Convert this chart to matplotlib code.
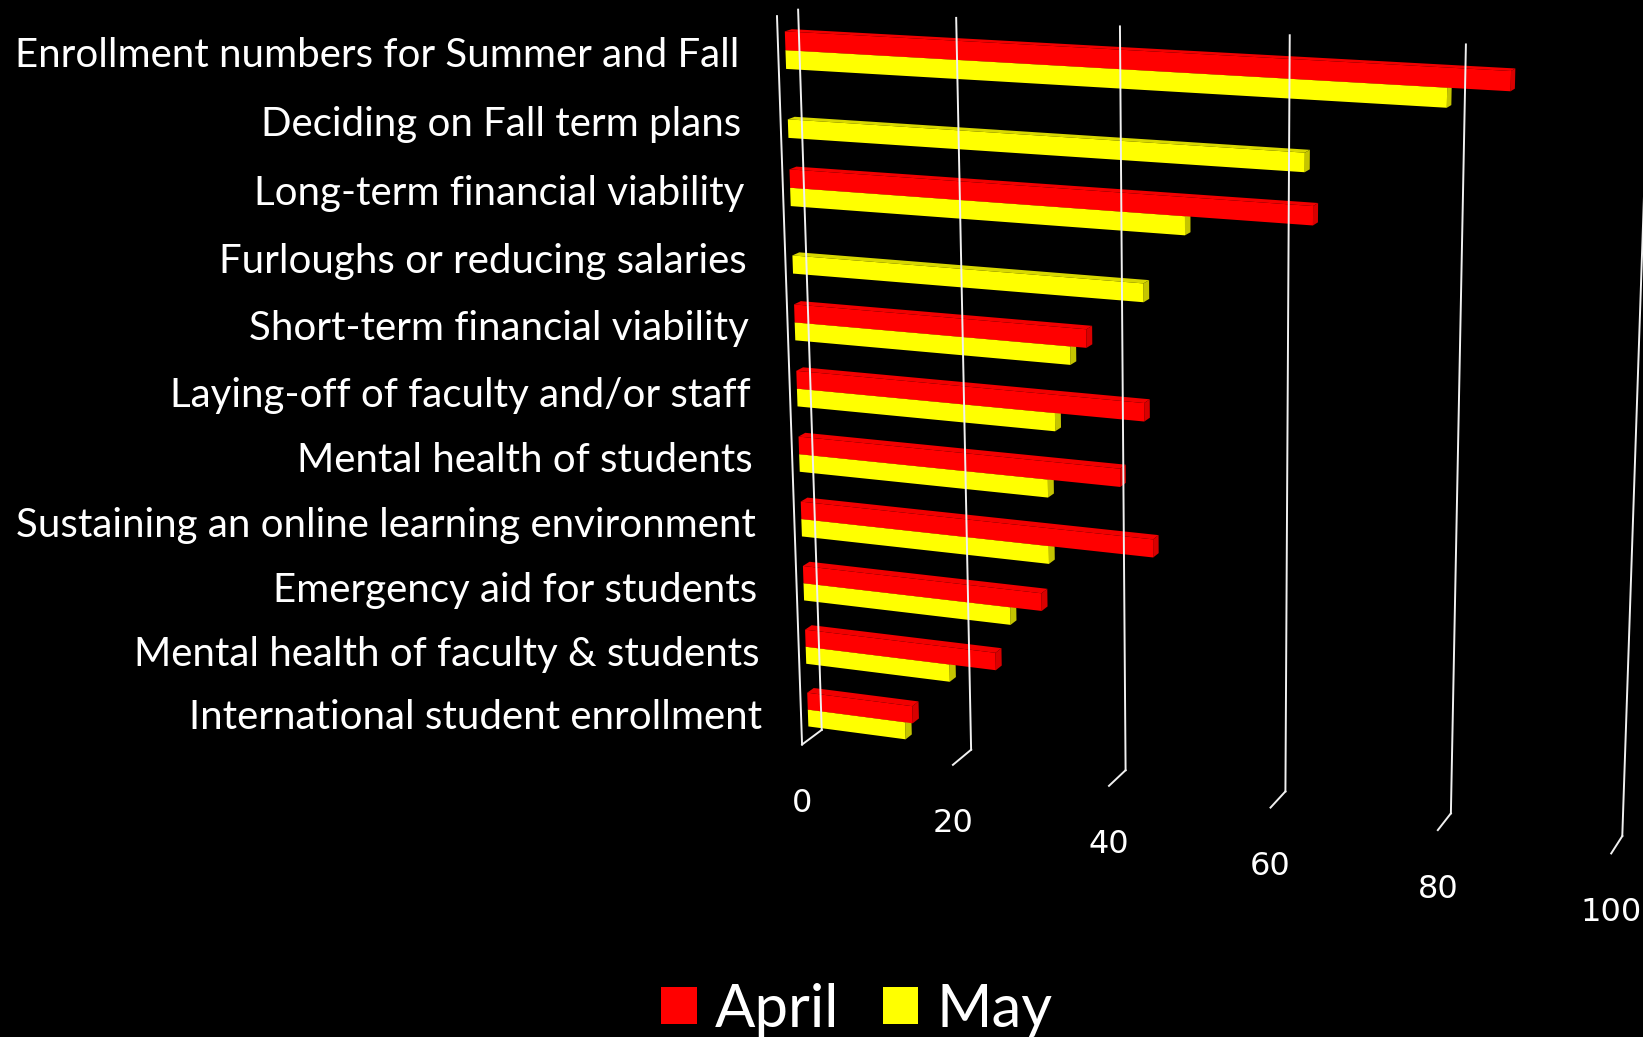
import numpy as np
import matplotlib
matplotlib.use("Agg")
import matplotlib.pyplot as plt
from matplotlib.patches import Patch
from matplotlib.transforms import Transform

categories = ["Enrollment numbers for Summer and Fall", "Deciding on Fall term plans",
              "Long-term financial viability", "Furloughs or reducing salaries",
              "Short-term financial viability", "Laying-off of faculty and/or staff",
              "Mental health of students", "Sustaining an online learning environment",
              "Emergency aid for students", "Mental health of faculty & students",
              "International student enrollment"]
april = [86, 0, 64, 0, 37, 44, 41, 45, 31, 25, 14]
may = [79, 63, 49, 44, 35, 33, 32, 32, 27, 19, 13]
ticks = [0, 20, 40, 60, 80, 100]

plt.rcParams['font.family'] = ['Lato', 'DejaVu Sans']

# wall corners measured on the reference: (value, slot fraction, depth) -> pixel
world = np.array([[0, 0, 0], [.2, 0, 0], [.8, 0, 0], [1, 0, 0],
                  [0, 1, 0], [.2, 1, 0], [.8, 1, 0], [1, 1, 0],
                  [0, 1, 1], [.2, 1, 1], [.8, 1, 1], [1, 1, 1], [0, 0, 1]], float)
pixel = np.array([[798, 10], [956, 18], [1467, 45], [1648, 53],
                  [821, 728], [972, 751], [1451, 813], [1622, 837],
                  [802, 745], [953, 765], [1438, 830], [1611, 853], [777, 16]], float)


def fit_camera(w, p):
    rows = []
    for (x, y, z), (u, v) in zip(w, p):
        rows.append([x, y, z, 1, 0, 0, 0, 0, -u * x, -u * y, -u * z, -u])
        rows.append([0, 0, 0, 0, x, y, z, 1, -v * x, -v * y, -v * z, -v])
    return np.linalg.svd(np.array(rows))[2][-1].reshape(3, 4)


camera = fit_camera(world, pixel)
n_slots = len(categories)


class PlaneTransform(Transform):
    # 2d coordinates on one plane of the box -> pixels, axis 0=value 1=slot 2=depth
    input_dims = 2
    output_dims = 2

    def __init__(self, axis, fixed):
        super().__init__()
        self.axis = axis
        self.fixed = fixed

    def transform_non_affine(self, values):
        pts = np.insert(np.asarray(values, float), self.axis, self.fixed, axis=1)
        pts = pts / [100, n_slots, 1]
        h = camera @ np.column_stack([pts, np.ones(len(pts))]).T
        return (h[:2] / h[2]).T


def project(v, s, d):
    return PlaneTransform(2, d).transform_non_affine([[v, s]])[0]


fig = plt.figure(figsize=(16.43, 10.37), dpi=100, facecolor='black')
ax = fig.add_axes([0, 0, 1, 1])
ax.set_xlim(0, 1643)
ax.set_ylim(1037, 0)
ax.set_autoscale_on(False)
ax.axis('off')

# walls
grid = dict(color='#f0f0f0', lw=1.4, solid_joinstyle='miter')
for t in ticks:
    ax.plot([t, t], [0, n_slots], transform=PlaneTransform(2, 0) + ax.transData, **grid)
    ax.plot([t, t], [0, 1], transform=PlaneTransform(1, n_slots) + ax.transData, **grid)
ax.plot([0, 0], [0, n_slots], transform=PlaneTransform(2, 1) + ax.transData, **grid)

d_back, d_front = 0.33, 0.66
bar_h = 0.27
slots = np.arange(n_slots) + 0.52


def draw_series(vals, edges, front, top, side):
    for v, s in zip(vals, edges):
        if v == 0:
            continue
        ax.fill([0, v, v, 0], [d_back, d_back, d_front, d_front], color=top, lw=0,
                transform=PlaneTransform(1, s) + ax.transData)
        ax.fill([s, s + bar_h, s + bar_h, s], [d_back, d_back, d_front, d_front], color=side, lw=0,
                transform=PlaneTransform(0, v) + ax.transData)
    ax.barh(edges, vals, height=bar_h, align='edge', color=front, lw=0,
            transform=PlaneTransform(2, d_front) + ax.transData)


draw_series(may, slots, '#ffff00', '#d8d800', '#c4c400')
draw_series(april, slots - bar_h, '#ff0000', '#f00000', '#d80000')

for name, s in zip(categories, np.arange(n_slots) + 0.5):
    x, y = project(0, s, 1)
    ax.text(x - 39, y + 4, name, color='white', fontsize=29, ha='right', va='center')

for t in ticks:
    x, y = project(t, n_slots, 1)
    ax.text(x, y + 59, str(t), color='white', fontsize=23, ha='center', va='center',
            family='DejaVu Sans')

handles = [Patch(color='#ff0000', label='April', lw=0), Patch(color='#ffff00', label='May', lw=0)]
ax.legend(handles=handles, ncol=2, frameon=False, loc='center', bbox_to_anchor=(0.5215, 0.0265),
          fontsize=43, labelcolor='white', handlelength=0.6, handleheight=0.6,
          handletextpad=0.3, columnspacing=0.72, borderaxespad=0, borderpad=0)

fig.savefig('out.png', dpi=100, facecolor='black')
